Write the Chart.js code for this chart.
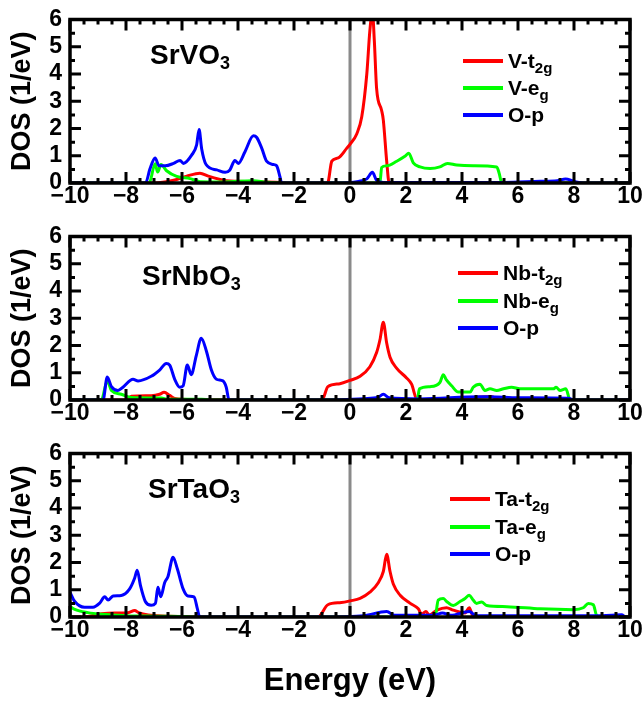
<!DOCTYPE html>
<html>
<head>
<meta charset="utf-8">
<script src="https://cdn.jsdelivr.net/npm/chart.js@4"></script>
<style>
  body { margin: 0; background: #fff; }
  #wrap { position: relative; width: 644px; height: 702px; overflow: hidden;
          font-family: "Liberation Sans", Arial, sans-serif; font-weight: bold; color: #000; }
  canvas { position: absolute; left: 0; }
  .name { position: absolute; font-size: 28px; line-height: 28px; white-space: nowrap; }
  .name sub { font-size: 18px; vertical-align: -5px; line-height: 0; }
  .row { position: absolute; height: 28px; display: flex; align-items: center; white-space: nowrap; font-size: 21px; }
  .swatch { width: 40px; height: 4px; margin-right: 5px; }
  .row sub { font-size: 15px; vertical-align: -5px; line-height: 0; }
</style>
</head>
<body>
<div id="wrap">
  <canvas id="p1" width="644" height="217" style="top:0px"></canvas>
  <canvas id="p2" width="644" height="217" style="top:217px"></canvas>
  <canvas id="p3" width="644" height="268" style="top:434px"></canvas>

  <div class="name" style="left:150px;top:41px">SrVO<sub>3</sub></div>
  <div class="name" style="left:142px;top:262px">SrNbO<sub>3</sub></div>
  <div class="name" style="left:148px;top:475px">SrTaO<sub>3</sub></div>

  <div class="row" style="left:463px;top:47px"><div class="swatch" style="background:#ff0000"></div><span>V-t<sub>2g</sub></span></div>
  <div class="row" style="left:463px;top:74px"><div class="swatch" style="background:#00ff00"></div><span>V-e<sub>g</sub></span></div>
  <div class="row" style="left:463px;top:101px"><div class="swatch" style="background:#0000ff"></div><span>O-p</span></div>

  <div class="row" style="left:458px;top:259px"><div class="swatch" style="background:#ff0000"></div><span>Nb-t<sub>2g</sub></span></div>
  <div class="row" style="left:458px;top:287px"><div class="swatch" style="background:#00ff00"></div><span>Nb-e<sub>g</sub></span></div>
  <div class="row" style="left:458px;top:314px"><div class="swatch" style="background:#0000ff"></div><span>O-p</span></div>

  <div class="row" style="left:450px;top:485px"><div class="swatch" style="background:#ff0000"></div><span>Ta-t<sub>2g</sub></span></div>
  <div class="row" style="left:450px;top:513px"><div class="swatch" style="background:#00ff00"></div><span>Ta-e<sub>g</sub></span></div>
  <div class="row" style="left:450px;top:540px"><div class="swatch" style="background:#0000ff"></div><span>O-p</span></div>
</div>
<script>
// axis ticks
const xTicks = [-10, -8, -6, -4, -2, 0, 2, 4, 6, 8, 10];
const yTicks = [0, 1, 2, 3, 4, 5, 6];

// SrVO3
const vT2gE   = [-10, -7.0, -6.3, -5.83, -5.36, -5.06, -4.64, -4.4, -3.46, -2.5, -2.2, -0.8, -0.65, -0.42, -0.12, 0, 0.24, 0.42, 0.6, 0.71, 0.8, 0.87, 0.95, 1.13, 1.19, 1.31, 1.4, 10];
const vT2gDos = [0, 0, 0.1, 0.25, 0.36, 0.25, 0.13, 0.08, 0.05, 0.02, 0, 0, 0.8, 0.92, 1.27, 1.42, 1.8, 2.43, 4.0, 5.6, 6.3, 5.2, 3.47, 2.66, 2.31, 0.8, 0, 0];
const vEgE    = [-10, -7.17, -6.96, -6.87, -6.75, -6.55, -6.19, -5.71, -5.36, -4.5, -3.46, -3.0, -2.5, 1.07, 1.13, 1.31, 1.67, 1.96, 2.1, 2.26, 2.5, 2.86, 3.21, 3.48, 3.81, 4.4, 5.24, 5.33, 5.42, 10];
const vEgDos  = [0, 0, 0.71, 0.4, 0.68, 0.45, 0.24, 0.16, 0.05, 0.04, 0.08, 0.03, 0, 0, 0.57, 0.63, 0.8, 0.98, 1.09, 0.74, 0.59, 0.53, 0.59, 0.72, 0.66, 0.63, 0.59, 0.35, 0, 0];
const vOpE    = [-10, -7.3, -7.15, -6.96, -6.82, -6.6, -6.3, -6.07, -5.95, -5.65, -5.48, -5.39, -5.3, -5.14, -4.76, -4.46, -4.29, -4.11, -3.99, -3.75, -3.45, -3.33, -3.15, -2.98, -2.74, -2.62, -2.5, -2.44, -0.5, 0.3, 0.6, 0.8, 0.95, 1.2, 5.5, 6.8, 7.4, 7.7, 8.0, 8.4, 10];
const vOpDos  = [0, 0, 0.5, 0.92, 0.63, 0.63, 0.72, 0.83, 0.72, 1.03, 1.39, 1.96, 1.27, 0.68, 0.48, 0.39, 0.48, 0.83, 0.72, 1.15, 1.73, 1.67, 1.27, 0.8, 0.68, 0.63, 0.22, 0, 0, 0.06, 0.15, 0.39, 0.1, 0.02, 0.02, 0.06, 0.08, 0.15, 0.06, 0, 0];

// SrNbO3
const nbT2gE   = [-10, -7.99, -7.81, -7.1, -6.8, -6.64, -6.44, -6.26, -5.5, -4.5, -1.0, -0.79, -0.36, 0, 0.36, 0.71, 0.95, 1.07, 1.19, 1.31, 1.43, 1.67, 2.02, 2.2, 2.4, 4.0, 4.17, 4.52, 5.06, 5.24, 5.4, 10];
const nbT2gDos = [0, 0, 0.14, 0.16, 0.21, 0.28, 0.17, 0.06, 0.02, 0, 0, 0.49, 0.6, 0.72, 0.87, 1.22, 1.74, 2.21, 2.85, 2.09, 1.57, 1.16, 0.81, 0.58, 0, 0, 0.06, 0.1, 0.13, 0.03, 0, 0];
const nbEgE    = [-10, -8.88, -8.67, -8.52, -8.17, -7.81, -6.74, -6.5, -5.3, -5.0, 2.4, 2.48, 2.86, 3.21, 3.33, 3.43, 3.63, 3.87, 4.29, 4.4, 4.64, 4.82, 5.0, 5.24, 5.48, 5.77, 6.07, 7.26, 7.36, 7.5, 7.71, 7.86, 10];
const nbEgDos  = [0, 0, 0.7, 0.35, 0.21, 0.09, 0.07, 0.03, 0.03, 0, 0, 0.41, 0.49, 0.64, 0.93, 0.76, 0.52, 0.29, 0.29, 0.47, 0.58, 0.35, 0.41, 0.35, 0.41, 0.47, 0.41, 0.41, 0.47, 0.35, 0.41, 0, 0];
const nbOpE    = [-10, -8.82, -8.67, -8.52, -8.29, -8.11, -7.75, -7.57, -7.1, -6.8, -6.56, -6.44, -6.26, -6.08, -5.96, -5.81, -5.67, -5.49, -5.31, -5.13, -4.95, -4.77, -4.54, -4.42, -4.32, -1.0, 0.5, 1.0, 1.19, 1.4, 2.5, 4.64, 5.0, 6.0, 7.8, 8.0, 10];
const nbOpDos  = [0, 0, 0.84, 0.49, 0.35, 0.47, 0.76, 0.7, 0.87, 1.1, 1.34, 1.28, 0.76, 0.47, 0.52, 1.28, 0.93, 1.63, 2.27, 1.8, 1.1, 0.76, 0.7, 0.47, 0, 0, 0.05, 0.1, 0.21, 0.08, 0.04, 0.12, 0.12, 0.08, 0.06, 0, 0];

// SrTaO3
const taT2gE   = [-10, -9.36, -8.88, -8.64, -7.93, -7.69, -7.55, -7.21, -6.5, -5.5, -1.14, -0.79, -0.31, 0, 0.36, 0.71, 1.01, 1.19, 1.31, 1.43, 1.55, 1.79, 2.14, 2.44, 2.56, 2.71, 2.83, 3.1, 3.45, 3.69, 4.11, 4.26, 4.38, 4.5, 10];
const taT2gDos = [0, 0.02, 0.12, 0.14, 0.16, 0.24, 0.16, 0.07, 0.03, 0, 0, 0.45, 0.53, 0.59, 0.68, 0.91, 1.26, 1.67, 2.3, 1.67, 1.2, 0.8, 0.51, 0.3, 0.1, 0.2, 0.07, 0.25, 0.34, 0.25, 0.15, 0.34, 0.05, 0, 0];
const taEgE    = [-10, -9.83, -9.36, -8.88, -8.0, -7.0, -6.0, -5.5, 3.04, 3.15, 3.33, 3.45, 3.69, 3.93, 4.11, 4.26, 4.4, 4.52, 4.7, 4.88, 5.6, 6.79, 7.98, 8.33, 8.51, 8.69, 8.81, 8.93, 10];
const taEgDos  = [0.39, 0.28, 0.16, 0.1, 0.05, 0.03, 0.02, 0, 0, 0.62, 0.68, 0.57, 0.42, 0.57, 0.68, 0.8, 0.62, 0.5, 0.55, 0.42, 0.38, 0.3, 0.27, 0.34, 0.5, 0.45, 0.05, 0, 0];
const taOpE    = [-10, -9.83, -9.48, -9.18, -8.94, -8.76, -8.64, -8.46, -8.17, -7.87, -7.69, -7.6, -7.48, -7.31, -7.1, -6.95, -6.86, -6.76, -6.62, -6.5, -6.32, -6.17, -5.96, -5.79, -5.57, -5.45, -5.37, -1.0, 0.5, 1.31, 1.6, 3.0, 3.3, 3.6, 4.26, 4.5, 9.0, 9.7, 9.85, 10];
const taOpDos  = [0.91, 0.57, 0.36, 0.36, 0.51, 0.74, 0.62, 0.77, 0.79, 1.03, 1.43, 1.72, 1.14, 0.57, 0.43, 0.5, 1.09, 0.74, 1.26, 1.49, 2.19, 1.78, 1.03, 0.77, 0.74, 0.3, 0, 0, 0.05, 0.2, 0.06, 0.06, 0.15, 0.06, 0.2, 0.05, 0.05, 0.08, 0, 0];

const FONT = '"Liberation Sans", Arial, sans-serif';

function series(xs, ys, color) {
    return {
        data: xs.map((x, i) => ({x: x, y: ys[i]})),
        borderColor: color,
        borderWidth: 3,
        pointRadius: 0,
        fill: false,
        cubicInterpolationMode: 'monotone'
    };
}

// black box with inward ticks on all four sides
const framePlugin = {
    id: 'frame',
    afterDatasetsDraw(chart) {
        const ctx = chart.ctx, a = chart.chartArea;
        const x = chart.scales.x, y = chart.scales.y;
        ctx.save();
        ctx.strokeStyle = '#000';
        ctx.lineWidth = 3;
        ctx.beginPath();
        for (let v = -10; v <= 10; v += 0.5) {
            const px = x.getPixelForValue(v);
            const len = (v % 2 === 0) ? 11 : 5;
            ctx.moveTo(px, a.bottom); ctx.lineTo(px, a.bottom - len);
            ctx.moveTo(px, a.top); ctx.lineTo(px, a.top + len);
        }
        for (let v = 0; v <= 6; v += 0.5) {
            const py = y.getPixelForValue(v);
            const len = (v % 1 === 0) ? 11 : 5;
            ctx.moveTo(a.left, py); ctx.lineTo(a.left + len, py);
            ctx.moveTo(a.right, py); ctx.lineTo(a.right - len, py);
        }
        ctx.stroke();
        ctx.lineWidth = 3.5;
        ctx.strokeRect(a.left, a.top, a.right - a.left, a.bottom - a.top);
        ctx.restore();
    }
};

function makePanel(id, xHeight, t2g, eg, op, showXTitle) {
    const zero = {
        data: [{x: 0, y: 0}, {x: 0, y: 6}],
        borderColor: '#8a8a8a', borderWidth: 3, pointRadius: 0, tension: 0
    };
    new Chart(document.getElementById(id), {
        type: 'line',
        data: {
            // first dataset is drawn on top
            datasets: [
                series(op[0], op[1], '#0000ff'),
                series(eg[0], eg[1], '#00ff00'),
                series(t2g[0], t2g[1], '#ff0000'),
                zero
            ]
        },
        options: {
            responsive: false,
            animation: false,
            events: [],
            layout: { padding: { top: 11, right: 14, left: 0, bottom: 0 } },
            plugins: { legend: { display: false }, tooltip: { enabled: false } },
            scales: {
                x: {
                    type: 'linear', min: -10, max: 10,
                    afterBuildTicks: s => { s.ticks = xTicks.map(v => ({value: v})); },
                    afterFit: s => { s.height = xHeight; },
                    grid: { display: false, drawTicks: false },
                    border: { display: false },
                    ticks: {
                        color: '#000', padding: 0, maxRotation: 0, autoSkip: false,
                        font: { family: FONT, size: 23, weight: 'bold' },
                        callback: v => (v < 0 ? '\u2212' + Math.abs(v) : String(v))
                    },
                    title: {
                        display: showXTitle, text: 'Energy (eV)', color: '#000',
                        font: { family: FONT, size: 31, weight: 'bold' },
                        padding: { top: 0, bottom: 2 }
                    }
                },
                y: {
                    min: 0, max: 6,
                    afterBuildTicks: s => { s.ticks = yTicks.map(v => ({value: v})); },
                    afterFit: s => { s.width = 70; },
                    grid: { display: false, drawTicks: false },
                    border: { display: false },
                    ticks: {
                        color: '#000', padding: 8,
                        font: { family: FONT, size: 23, weight: 'bold', lineHeight: 1 }
                    },
                    title: {
                        display: true, text: 'DOS (1/eV)', color: '#000',
                        font: { family: FONT, size: 27, weight: 'bold' },
                        padding: { top: 6, bottom: 0 }
                    }
                }
            }
        },
        plugins: [framePlugin]
    });
}

makePanel('p1', 34, [vT2gE, vT2gDos], [vEgE, vEgDos], [vOpE, vOpDos], false);
makePanel('p2', 34, [nbT2gE, nbT2gDos], [nbEgE, nbEgDos], [nbOpE, nbOpDos], false);
makePanel('p3', 85, [taT2gE, taT2gDos], [taEgE, taEgDos], [taOpE, taOpDos], true);
</script>
</body>
</html>
